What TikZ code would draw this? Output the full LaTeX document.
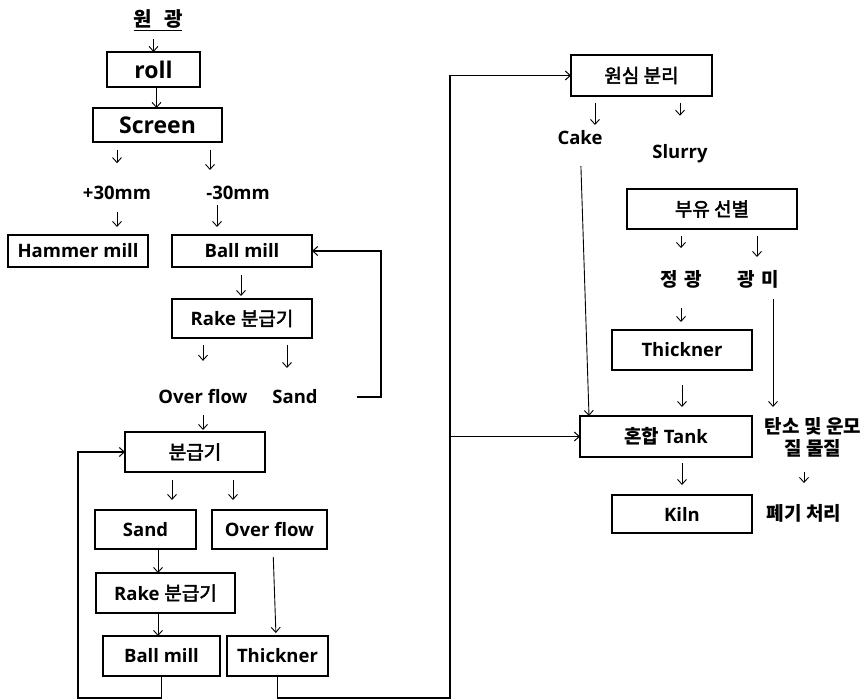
\documentclass[tikz,border=0pt]{standalone}
\usepackage{fontspec}
\setmainfont{Open Sans}
\newfontfamily\kr{Noto Sans CJK KR}
\newfontfamily\krmed[FakeBold=2.5]{Noto Sans CJK KR}
\usetikzlibrary{arrows.meta}

\newcommand\lat{\bfseries\fontsize{18.5}{22}\selectfont}
\newcommand\bigtxt{\bfseries\fontsize{23}{27}\selectfont}
\newcommand\krb{\kr\bfseries\fontsize{19}{22}\selectfont}
\newcommand\krm{\krmed\mdseries\fontsize{19}{22}\selectfont}

\begin{document}
\begin{tikzpicture}[x=1pt,y=-1pt,
  box/.style 2 args={draw, line width=2.2pt, inner sep=0pt, outer sep=0pt,
    minimum width=#1pt, minimum height=#2pt, font=\lat},
  lbl/.style={inner sep=0pt, outer sep=0pt, font=\lat},
  arr/.style={line width=0.9pt, -{Straight Barb[length=5pt,width=9pt,line width=0.9pt]}},
  loop/.style={line width=1.3pt, -{Straight Barb[length=5pt,width=9pt,line width=1pt]}},
]

\useasboundingbox (0,0) rectangle (867,700);

% ---- left column: crushing and first grinding circuit
\node[lbl, font=\krb\fontsize{20}{23}\selectfont] (ore) at (158,20) {\underline{원\hspace{0.6em}광}};
\node[box={93}{35}, font=\bigtxt] (roll) at (153.5,69.5) {roll};
\node[box={129}{34}, font=\bigtxt] (screen) at (157.5,125) {Screen};
\node[lbl] (p30) at (117,193) {+30mm};
\node[lbl] (m30) at (238,193) {-30mm};
\node[box={140}{32}] (hammer) at (78,251) {Hammer mill};
\node[box={140}{32}] (ball1) at (242,251) {Ball mill};
\node[box={140}{39}] (rake1) at (242,318.5) {Rake {\krm 분급기}};
\node[lbl] (of1) at (203,397) {Over flow};
\node[lbl] (sand1) at (295,397) {Sand};

% ---- second classification circuit
\node[box={140}{40}, font=\krm] (bung) at (195,452) {분급기};
\node[box={101}{39}] (sand2) at (145.5,529.5) {Sand};
\node[box={115}{39}] (over2) at (269.5,529.5) {Over flow};
\node[box={139}{40}] (rake2) at (165.5,593) {Rake {\krm 분급기}};
\node[box={117}{40}] (ball2) at (161.5,656) {Ball mill};
\node[box={101}{40}] (thick1) at (277.5,656) {Thickner};

% ---- right column: separation and drying
\coordinate (bus) at (450,440);
\node[box={141}{41}, font=\krm] (centri) at (641.5,75.5) {원심 분리};
\node[lbl] (cake) at (580,138) {Cake};
\node[lbl] (slurry) at (680,154) {Slurry};
\node[box={170}{40}, font=\krm] (flot) at (712,209) {부유 선별};
\node[lbl, font=\krb] (jg) at (681,279) {정\hspace{0.35em}광};
\node[lbl, font=\krb] (gm) at (758,279) {광\hspace{0.35em}미};
\node[box={140}{40}] (thick2) at (682,350) {Thickner};
\node[box={172}{41}] (tank) at (666,436.5) {{\krb 혼합} Tank};
\node[lbl, font=\krb, align=center] (carbon) at (813,437) {탄소 및 운모\\질 물질};
\node[box={140}{38}] (kiln) at (682,514) {Kiln};
\node[lbl, font=\krb] (waste) at (804,513) {폐기 처리};

% ---- short flow arrows, left
\draw[arr, shorten <=19.5pt] (ore.center -| roll.north) -- (roll.north);
\draw[arr] ([xshift=3pt]roll.south) -- ([xshift=3pt]roll.south |- screen.north);
\draw[arr, shorten <=8pt, shorten >=23pt] (screen.south -| p30) -- (p30);
\draw[arr, shorten <=8pt, shorten >=23pt] ([xshift=-28pt]m30.center |- screen.south) -- ([xshift=-28pt]m30.center);
\draw[arr, shorten <=12pt, shorten >=8pt] (p30) -- (p30 |- hammer.north);
\draw[arr, shorten <=12pt, shorten >=8pt] ([xshift=-21pt]m30.center) -- ([xshift=-21pt]m30.center |- ball1.north);
\draw[arr, shorten <=8pt, shorten >=3pt] ([xshift=-1pt]ball1.south) -- ([xshift=-1pt]rake1.north);
\draw[arr, shorten <=7pt, shorten >=29pt] (rake1.south -| of1) -- (of1);
\draw[arr, shorten <=7pt, shorten >=29pt] ([xshift=-8pt]sand1.center |- rake1.south) -- ([xshift=-8pt]sand1.center);
\draw[arr, shorten <=11pt, shorten >=2pt] (of1) -- (of1 |- bung.north);
\draw[arr, shorten <=8pt, shorten >=10pt] ([xshift=26.5pt]sand2.north |- bung.south) -- ([xshift=26.5pt]sand2.north);
\draw[arr, shorten <=8pt, shorten >=10pt] ([xshift=-36.5pt]over2.north |- bung.south) -- ([xshift=-36.5pt]over2.north);
\draw[arr] ([xshift=12.5pt]sand2.south) -- ([xshift=12.5pt]sand2.south |- rake2.north);
\draw[arr] ([xshift=-3.5pt]ball2.north |- rake2.south) -- ([xshift=-3.5pt]ball2.north);
\draw[arr, shorten <=8pt, shorten >=3pt] ([xshift=3.5pt]over2.south) -- ([xshift=-1.5pt]thick1.north);

% ---- recycle loops
\draw[loop] ([xshift=62pt]sand1.center) -- ++(24,0) |- (ball1.east);
\draw[loop] (ball2.south) -- ++(0,22) -| ([xshift=-47pt]bung.west) -- (bung.west);
\draw[loop] (thick1.south) -- ++(0,22) -| (bus |- centri.west) -- (centri.west);
\draw[loop] (bus |- tank.west) -- (tank.west);

% ---- short flow arrows, right
\draw[arr, shorten <=7pt, shorten >=13pt] ([xshift=15pt]cake.center |- centri.south) -- ([xshift=15pt]cake.center);
\draw[arr, shorten <=7pt, shorten >=29pt] (slurry |- centri.south) -- (slurry);
\draw[arr, shorten <=21pt] (cake) -- ([xshift=9pt]tank.north west);
\draw[arr, shorten <=7pt, shorten >=22pt] (jg |- flot.south) -- (jg);
\draw[arr, shorten <=7pt, shorten >=22pt] ([xshift=-1pt]gm.center |- flot.south) -- ([xshift=-1pt]gm.center);
\draw[arr, shorten <=20pt, shorten >=8pt] (jg) -- (jg |- thick2.north);
\draw[arr, shorten <=20pt, shorten >=9pt] ([xshift=15pt]gm.center) -- ([xshift=15pt]gm.center |- tank.north);
\draw[arr, shorten <=15pt, shorten >=9pt] (thick2.south) -- (thick2.south |- tank.north);
\draw[arr, shorten <=6pt, shorten >=10pt] (thick2.south |- tank.south) -- (kiln.north);
\draw[arr, shorten <=35pt, shorten >=21pt] (waste |- carbon.center) -- (waste);
\end{tikzpicture}
\end{document}
